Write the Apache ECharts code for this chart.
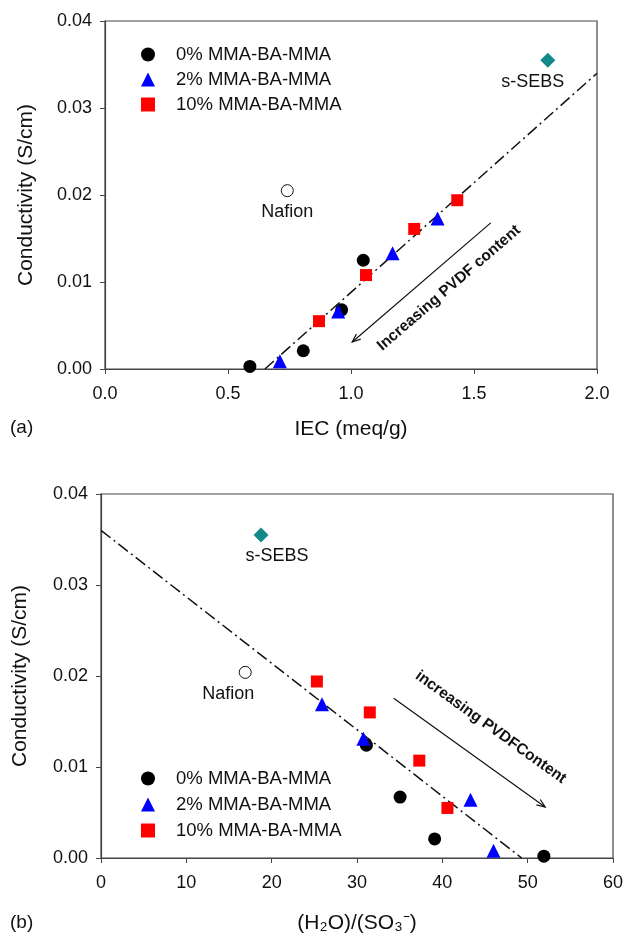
<!DOCTYPE html>
<html>
<head>
<meta charset="utf-8">
<script src="https://cdn.jsdelivr.net/npm/echarts@6/dist/echarts.min.js"></script>
<style>
  html, body { margin: 0; padding: 0; background: #fff; }
  #chart { width: 638px; height: 942px; }
</style>
</head>
<body>
<div id="chart"></div>
<script>
// panel (a): conductivity vs IEC
const iec0 = [0.589, 0.806, 0.962, 1.050];
const cond0a = [0.0003, 0.0021, 0.0068, 0.0125];
const iec2 = [0.711, 0.948, 1.169, 1.352];
const cond2a = [0.0009, 0.0066, 0.0133, 0.0173];
const iec10 = [0.870, 1.061, 1.257, 1.432];
const cond10a = [0.0055, 0.0108, 0.0161, 0.0194];
const nafionA = [0.741, 0.0205];
const sebsA = [1.80, 0.0355];
const fitA = [[0.65, 0.0], [2.0, 0.034]];
const arrowA = [1.568, 0.0168, 1.005, 0.0031];
const noteA = [1.398, 0.0093];

// panel (b): conductivity vs water uptake per sulfonate
const lam0 = [31.1, 35.05, 39.1, 51.9];
const cond0b = [0.0124, 0.0067, 0.0021, 0.0002];
const lam2 = [25.9, 30.75, 43.3, 46.0];
const cond2b = [0.0169, 0.0131, 0.0064, 0.0008];
const lam10 = [25.3, 31.5, 37.3, 40.6];
const cond10b = [0.0194, 0.0160, 0.0107, 0.0055];
const nafionB = [16.9, 0.0204];
const sebsB = [18.75, 0.0355];
const fitB = [[0, 0.036], [49.3, 0.0]];
const arrowB = [34.3, 0.01755, 52.05, 0.0056];
const noteB = [45.67, 0.01436];

const names = ['0% MMA-BA-MMA', '2% MMA-BA-MMA', '10% MMA-BA-MMA'];
const FONT = 'Liberation Sans, Arial, Helvetica, sans-serif';
const AXIS = '#444';

const zip = (xs, ys) => xs.map((x, i) => [x, ys[i]]);

function xAxisOf(gi, min, max, interval, digits, name, gap) {
  return {
    gridIndex: gi, type: 'value', min, max, interval,
    name, nameLocation: 'middle', nameGap: gap,
    nameTextStyle: { fontFamily: FONT, fontSize: 21, color: '#111' },
    axisLine: { lineStyle: { color: AXIS, width: 1.2 } },
    axisTick: { inside: false, length: 5, lineStyle: { color: AXIS } },
    axisLabel: { margin: 16, fontFamily: FONT, fontSize: 18, color: '#111', formatter: (v) => v.toFixed(digits) },
    splitLine: { show: false },
  };
}

function yAxisOf(gi, gap) {
  return {
    gridIndex: gi, type: 'value', min: 0, max: 0.04, interval: 0.01,
    name: 'Conductivity (S/cm)', nameLocation: 'middle', nameGap: gap,
    nameTextStyle: { fontFamily: FONT, fontSize: 21, color: '#111' },
    axisLine: { lineStyle: { color: AXIS, width: 1.2 } },
    axisTick: { inside: false, length: 5, lineStyle: { color: AXIS } },
    axisLabel: { margin: 13, fontFamily: FONT, fontSize: 18, color: '#111', formatter: (v) => v.toFixed(2) },
    splitLine: { show: false },
  };
}

function groupSeries(gi, sets) {
  const styles = [
    { symbol: 'circle', symbolSize: 13, color: '#000000' },
    { symbol: 'triangle', symbolSize: 14, color: '#0000ff' },
    { symbol: 'rect', symbolSize: 12, color: '#ff0000' },
  ];
  return sets.map((d, i) => ({
    name: names[i], type: 'scatter', xAxisIndex: gi, yAxisIndex: gi,
    symbol: styles[i].symbol, symbolSize: styles[i].symbolSize,
    itemStyle: { color: styles[i].color, opacity: 1 }, data: d, z: 5,
  }));
}

function refSeries(gi, nafion, sebs, nafOff, sebsOff) {
  const lbl = (off, dist) => ({
    show: true, position: 'bottom', distance: dist, offset: off,
    fontFamily: FONT, fontSize: 18, color: '#111', opacity: 1,
    formatter: (p) => p.name,
  });
  return [
    {
      name: 'Nafion', type: 'scatter', xAxisIndex: gi, yAxisIndex: gi,
      symbol: 'circle', symbolSize: 12,
      itemStyle: { color: '#fff', borderColor: '#111', borderWidth: 1, opacity: 1 },
      label: lbl(nafOff, 6),
      data: [{ name: 'Nafion', value: nafion }], z: 5,
    },
    {
      name: 's-SEBS', type: 'scatter', xAxisIndex: gi, yAxisIndex: gi,
      symbol: 'diamond', symbolSize: 15,
      itemStyle: { color: '#13898a', opacity: 1 },
      label: lbl(sebsOff, 5),
      data: [{ name: 's-SEBS', value: sebs }], z: 5,
    },
  ];
}

function fitSeries(gi, pts) {
  return {
    name: 'fit' + gi, type: 'line', xAxisIndex: gi, yAxisIndex: gi,
    data: pts, showSymbol: false, silent: true, z: 3,
    lineStyle: { color: '#111', width: 1.5, type: [12, 4, 2, 4] },
  };
}

// arrow with open head plus rotated caption, positioned in data space
function noteSeries(gi, arrow, at, text) {
  return {
    type: 'custom', xAxisIndex: gi, yAxisIndex: gi, silent: true, z: 4,
    data: [[...arrow, ...at]],
    renderItem(params, api) {
      const p1 = api.coord([api.value(0), api.value(1)]);
      const p2 = api.coord([api.value(2), api.value(3)]);
      const t = api.coord([api.value(4), api.value(5)]);
      const dir = Math.atan2(p2[1] - p1[1], p2[0] - p1[0]);
      const h = 9, w = 0.38;
      const a1 = [p2[0] - h * Math.cos(dir - w), p2[1] - h * Math.sin(dir - w)];
      const a2 = [p2[0] - h * Math.cos(dir + w), p2[1] - h * Math.sin(dir + w)];
      let rot = Math.atan2(-(p2[1] - p1[1]), p2[0] - p1[0]);
      if (Math.abs(rot) > Math.PI / 2) rot = Math.atan2(p2[1] - p1[1], -(p2[0] - p1[0]));
      return {
        type: 'group',
        children: [
          { type: 'line', shape: { x1: p1[0], y1: p1[1], x2: p2[0], y2: p2[1] }, style: { stroke: '#111', lineWidth: 1.2 } },
          { type: 'polyline', shape: { points: [a1, p2, a2] }, style: { stroke: '#111', lineWidth: 1.2, fill: null } },
          {
            type: 'text', x: t[0], y: t[1], rotation: rot,
            style: { text, fontFamily: FONT, fontSize: 15.5, fontWeight: 'bold', fill: '#111', align: 'center', verticalAlign: 'middle' },
          },
        ],
      };
    },
  };
}

function legendOf(top, gap) {
  return {
    data: names, orient: 'vertical', left: 136, top, itemGap: gap,
    itemWidth: 14, itemHeight: 14, selectedMode: false, symbolKeepAspect: true,
    textStyle: { fontFamily: FONT, fontSize: 18.5, color: '#111', padding: [0, 0, 0, 16] },
  };
}

const chart = echarts.init(document.getElementById('chart'), null, { renderer: 'canvas' });
chart.setOption({
  animation: false,
  backgroundColor: '#fff',
  grid: [
    { left: 105, top: 21, width: 492, height: 348, show: true, borderColor: AXIS, borderWidth: 1.2 },
    { left: 101, top: 494, width: 512, height: 364, show: true, borderColor: AXIS, borderWidth: 1.2 },
  ],
  xAxis: [
    xAxisOf(0, 0, 2, 0.5, 1, 'IEC (meq/g)', 50),
    xAxisOf(1, 0, 60, 10, 0, '(H₂O)/(SO₃⁻)', 55),
  ],
  yAxis: [yAxisOf(0, 68), yAxisOf(1, 70)],
  legend: [legendOf(40, 6), legendOf(764, 7)],
  graphic: [
    { type: 'text', left: 10, top: 418, style: { text: '(a)', fontFamily: FONT, fontSize: 19, fill: '#111' } },
    { type: 'text', left: 10, top: 913, style: { text: '(b)', fontFamily: FONT, fontSize: 19, fill: '#111' } },
  ],
  series: [
    fitSeries(0, fitA),
    ...groupSeries(0, [zip(iec0, cond0a), zip(iec2, cond2a), zip(iec10, cond10a)]),
    ...refSeries(0, nafionA, sebsA, [0, 0], [-15, 0]),
    noteSeries(0, arrowA, noteA, 'Increasing PVDF content'),
    fitSeries(1, fitB),
    ...groupSeries(1, [zip(lam0, cond0b), zip(lam2, cond2b), zip(lam10, cond10b)]),
    ...refSeries(1, nafionB, sebsB, [-17, 0], [16, 0]),
    noteSeries(1, arrowB, noteB, 'increasing PVDFContent'),
  ],
});
</script>
</body>
</html>
